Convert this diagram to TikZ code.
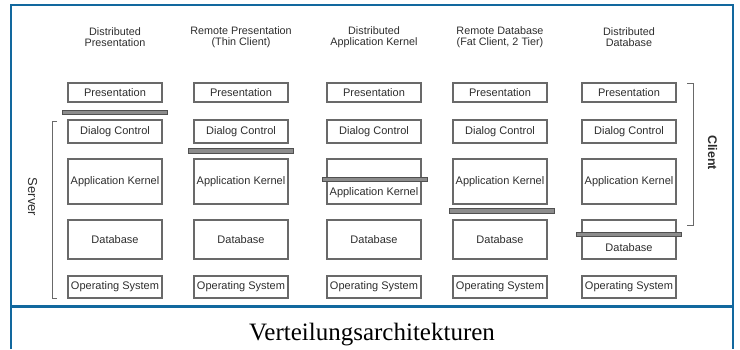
\documentclass[tikz,border=0pt]{standalone}
\usepackage{fontspec}
\setmainfont{Liberation Serif}
\setsansfont{Liberation Sans}
\definecolor{frameblue}{RGB}{18,104,158}
\definecolor{boxline}{RGB}{105,105,105}
\definecolor{boxtext}{RGB}{45,45,45}
\definecolor{barfill}{RGB}{140,140,140}
\definecolor{barline}{RGB}{80,80,80}
\begin{document}
\begin{tikzpicture}[x=1pt,y=-1pt,
  box/.style={draw=boxline,line width=1.1pt,minimum width=94pt,inner sep=0pt,
    font=\sffamily\fontsize{11}{12}\selectfont,text=boxtext},
  boxlabel/.style={inner sep=0pt,font=\sffamily\fontsize{11}{12}\selectfont,text=boxtext},
  head/.style={align=center,inner sep=0pt,font=\sffamily\fontsize{10.8}{11.5}\selectfont,text=boxtext},
  bar/.style={draw=barline,fill=barfill,line width=0.9pt,minimum width=105pt,minimum height=4.5pt,inner sep=0pt},
  brace/.style={draw=boxline,line width=1pt},
  side/.style={inner sep=0pt,font=\sffamily\fontsize{13}{14}\selectfont,text=boxtext,rotate=-90},
  frame/.style={draw=frameblue,line width=2.6pt}
]
\useasboundingbox (0,0) rectangle (740,349);

% frame
\coordinate (fbl) at (11,349);
\coordinate (ftl) at (11,5);
\coordinate (ftr) at (733,5);
\coordinate (fbr) at (733,349);
\coordinate (dl) at (11,306.5);
\coordinate (dr) at (733,306.5);
\draw[frame] (fbl) -- (ftl) -- (ftr) -- (fbr);
\draw[frame,line width=3.4pt] (dl) -- (dr);

% headers
\node[head] (h1) at (115,37) {Distributed\\Presentation};
\node[head] (h2) at (241,37) {Remote Presentation\\(Thin Client)};
\node[head] (h3) at (374,37) {Distributed\\Application Kernel};
\node[head] (h4) at (500,37) {Remote Database\\(Fat Client, 2 Tier)};
\node[head] (h5) at (629,37) {Distributed\\Database};

% boxes
\foreach \c/\x in {1/115,2/241,3/374,4/500,5/629}{
  \node[box,minimum height=19pt] (p\c) at (\x,92.5) {Presentation};
  \node[box,minimum height=23pt] (d\c) at (\x,131.5) {Dialog Control};
  \node[box,minimum height=45pt] (a\c) at (\x,181.5) {};
  \node[box,minimum height=39pt] (b\c) at (\x,239.5) {};
  \node[box,minimum height=22pt] (o\c) at (\x,287) {Operating System};
}
\foreach \c in {1,2,4}{
  \node[boxlabel] (al\c) at (a\c) {Application Kernel};
}
\node[boxlabel] (al3) at (374,192.5) {Application Kernel};
\node[boxlabel] (al5) at (a5) {Application Kernel};
\foreach \c in {1,2,3,4}{
  \node[boxlabel] (bl\c) at (b\c) {Database};
}
\node[boxlabel] (bl5) at (629,247.5) {Database};

% cut bars
\node[bar] (s1) at (114.5,112.5) {};
\node[bar] (s2) at (241,151) {};
\node[bar] (s3) at (374.5,179.5) {};
\node[bar] (s4) at (501.5,211) {};
\node[bar] (s5) at (628.5,234.5) {};

% server bracket
\coordinate (st) at (57,121);
\coordinate (stv) at (52,121);
\coordinate (sbv) at (52,298);
\coordinate (sb) at (57,298);
\draw[brace] (st) -- (stv) -- (sbv) -- (sb);
\node[side] (server) at (32.5,197) {Server};

% client bracket
\coordinate (ct) at (687,83);
\coordinate (ctv) at (693,83);
\coordinate (cbv) at (693,225);
\coordinate (cb) at (687,225);
\draw[brace] (ct) -- (ctv) -- (cbv) -- (cb);
\node[side,font=\sffamily\bfseries\fontsize{12.5}{14}\selectfont] (client) at (712.5,152.5) {Client};

% caption
\node[anchor=base,inner sep=0pt,font=\fontsize{25}{28}\selectfont] (cap) at (372,340) {Verteilungsarchitekturen};
\end{tikzpicture}
\end{document}
